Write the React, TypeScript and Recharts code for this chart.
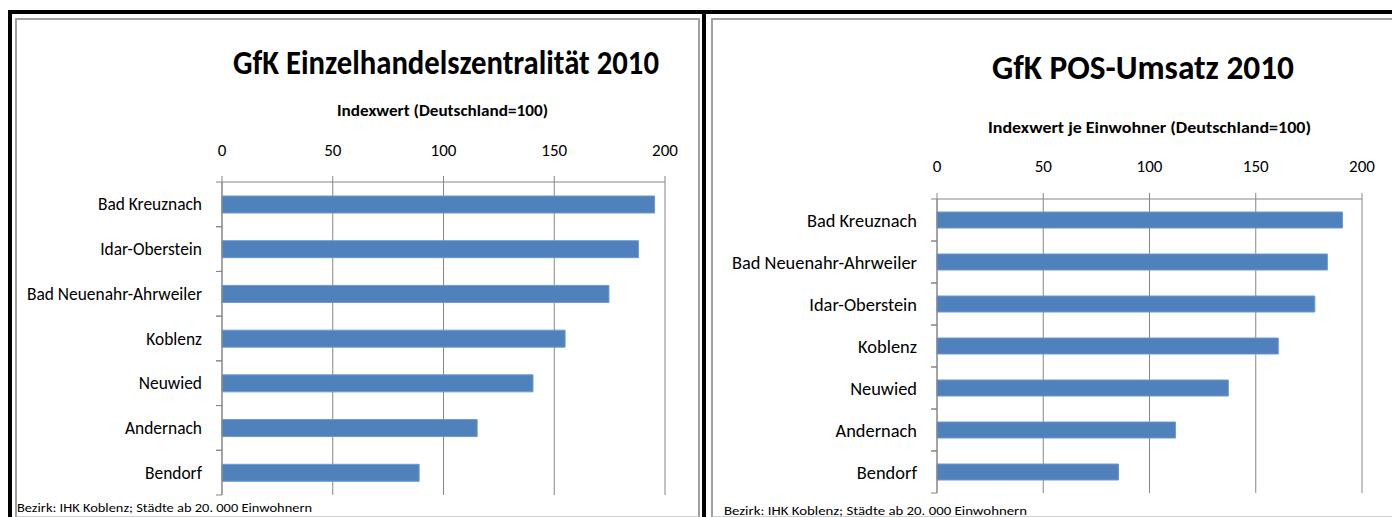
import { Bar, BarChart, CartesianGrid, XAxis, YAxis } from "recharts";

// values (Indexwert, Deutschland = 100)
const zentralitaetCities = [
  "Bad Kreuznach",
  "Idar-Oberstein",
  "Bad Neuenahr-Ahrweiler",
  "Koblenz",
  "Neuwied",
  "Andernach",
  "Bendorf",
];
const zentralitaetValues = [195.3, 188, 174.7, 154.9, 140.4, 115.2, 89];

const umsatzCities = [
  "Bad Kreuznach",
  "Bad Neuenahr-Ahrweiler",
  "Idar-Oberstein",
  "Koblenz",
  "Neuwied",
  "Andernach",
  "Bendorf",
];
const umsatzValues = [190.8, 183.7, 177.8, 160.6, 137.1, 112.2, 85.4];

const valueTicks = [0, 50, 100, 150, 200];

const FONT = "Carlito, Lato, 'Open Sans', sans-serif";
const AXIS = "#868686";
const BAR = "#4F81BD";

function CityTick(props: any) {
  const { x, y, payload, band, gap, fontSize } = props;
  const ax = x + gap;
  return (
    <g>
      <line x1={ax - 6} x2={ax} y1={y - band / 2} y2={y - band / 2} stroke={AXIS} />
      <line x1={ax - 6} x2={ax} y1={y + band / 2} y2={y + band / 2} stroke={AXIS} />
      <text
        x={x}
        y={y}
        textAnchor="end"
        dominantBaseline="central"
        fontSize={fontSize}
        fontFamily={FONT}
        fill="#000"
      >
        {payload.value}
      </text>
    </g>
  );
}

interface PanelProps {
  cities: string[];
  values: number[];
  width: number;
  margin: { top: number; right: number; bottom: number; left: number };
  yWidth: number;
  barSize: number;
  labelSize: number;
  tickMargin: number;
}

function Panel({ cities, values, width, margin, yWidth, barSize, labelSize, tickMargin }: PanelProps) {
  const data = cities.map((city, i) => ({ city, value: values[i] }));
  const height = 517;
  const band = (height - margin.top - margin.bottom - 30) / cities.length;
  return (
    <BarChart width={width} height={height} layout="vertical" data={data} margin={margin}>
      <CartesianGrid horizontal={false} stroke={AXIS} />
      <XAxis
        type="number"
        orientation="top"
        domain={[0, 200]}
        ticks={valueTicks}
        height={30}
        tickSize={6}
        tickMargin={tickMargin}
        axisLine={{ stroke: AXIS }}
        tickLine={{ stroke: AXIS }}
        tick={{ fill: "#000", fontSize: 17, fontFamily: FONT }}
      />
      <YAxis
        type="category"
        dataKey="city"
        width={yWidth}
        tickSize={0}
        tickMargin={20}
        tickLine={false}
        axisLine={{ stroke: AXIS }}
        interval={0}
        tick={<CityTick band={band} gap={20} fontSize={labelSize} />}
      />
      <Bar
        dataKey="value"
        fill={BAR}
        stroke="#6f99cc"
        strokeWidth={1}
        barSize={barSize}
        isAnimationActive={false}
      />
    </BarChart>
  );
}

export default function App() {
  return (
    <div
      style={{
        position: "absolute",
        left: 0,
        top: 0,
        width: 1392,
        height: 517,
        background: "#fff",
        overflow: "hidden",
        fontFamily: FONT,
      }}
    >
      {/* frames */}
      <div style={{ position: "absolute", left: 8, top: 10, width: 1384, height: 4, background: "#000" }} />
      <div style={{ position: "absolute", left: 8, top: 10, width: 4, height: 507, background: "#000" }} />
      <div style={{ position: "absolute", left: 702, top: 10, width: 4, height: 507, background: "#000" }} />
      <div
        style={{
          position: "absolute",
          left: 15,
          top: 18,
          width: 681,
          height: 496,
          border: "2px solid #a0a0a0",
          borderBottomColor: "#d0d0d0",
        }}
      />
      <div
        style={{
          position: "absolute",
          left: 711,
          top: 18,
          width: 700,
          height: 496,
          border: "2px solid #a0a0a0",
          borderBottomColor: "#d0d0d0",
        }}
      />

      <div style={{ position: "absolute", left: 0, top: 0 }}>
        <Panel
          cities={zentralitaetCities}
          values={zentralitaetValues}
          width={700}
          margin={{ top: 152, right: 35, bottom: 22, left: 0 }}
          yWidth={222}
          barSize={17}
          labelSize={17.4}
          tickMargin={20}
        />
      </div>
      <div style={{ position: "absolute", left: 700, top: 0 }}>
        <Panel
          cities={umsatzCities}
          values={umsatzValues}
          width={692}
          margin={{ top: 169, right: 30, bottom: 24, left: 0 }}
          yWidth={237}
          barSize={16}
          labelSize={18.4}
          tickMargin={21}
        />
      </div>

      <svg
        width={1392}
        height={517}
        style={{ position: "absolute", left: 0, top: 0, pointerEvents: "none" }}
        fontFamily={FONT}
      >
        <text x={233} y={74} fontSize={34} fontWeight="bold" textLength={426} lengthAdjust="spacingAndGlyphs">
          GfK Einzelhandelszentralität 2010
        </text>
        <text x={337} y={116} fontSize={15.5} fontWeight="bold" textLength={211} lengthAdjust="spacingAndGlyphs">
          Indexwert (Deutschland=100)
        </text>
        <text x={17} y={512} fontSize={13} textLength={295} lengthAdjust="spacingAndGlyphs">
          Bezirk: IHK Koblenz; Städte ab 20. 000 Einwohnern
        </text>

        <text x={992} y={79} fontSize={35} fontWeight="bold" textLength={302} lengthAdjust="spacingAndGlyphs">
          GfK POS-Umsatz 2010
        </text>
        <text x={988} y={133} fontSize={15.5} fontWeight="bold" textLength={323} lengthAdjust="spacingAndGlyphs">
          Indexwert je Einwohner (Deutschland=100)
        </text>
        <text x={724} y={515} fontSize={12.5} textLength={303} lengthAdjust="spacingAndGlyphs">
          Bezirk: IHK Koblenz; Städte ab 20. 000 Einwohnern
        </text>
      </svg>
    </div>
  );
}
